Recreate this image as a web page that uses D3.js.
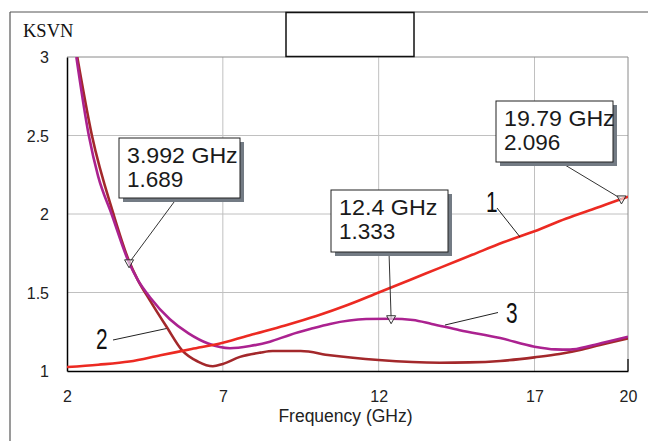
<!DOCTYPE html>
<html>
<head>
<meta charset="utf-8">
<script src="https://cdn.jsdelivr.net/npm/d3@7/dist/d3.min.js"></script>
<style>
  html, body { margin: 0; padding: 0; background: #fff; }
  svg { display: block; }
</style>
</head>
<body>
<svg id="chart" width="648" height="441"></svg>
<script>
// ---------- data ----------
const xTicks = [2, 7, 12, 17, 20];
const yTicks = [1, 1.5, 2, 2.5, 3];
const yTickLabels = ["1", "1.5", "2", "2.5", "3"];

// series 1 (red)
const freq1 = [2, 3, 4, 5, 6, 7, 8, 9, 10, 11, 12, 13, 14, 15, 16, 17, 18, 19, 19.79, 20];
const ksvn1 = [1.025, 1.04, 1.06, 1.10, 1.14, 1.18, 1.235, 1.29, 1.35, 1.42, 1.50, 1.58, 1.66, 1.74, 1.82, 1.89, 1.97, 2.04, 2.096, 2.11];

// series 2 (brown)
const freq2 = [2.33, 2.8, 3.49, 3.99, 4.27, 4.66, 5.2, 5.7, 6.2, 6.68, 7.0, 7.55, 8.2, 8.6, 9.5, 10.44, 12, 13.96, 14.9, 15.9, 17, 17.8, 18.46, 19.1, 20];
const ksvn2 = [3.0, 2.5, 2.0, 1.70, 1.58, 1.45, 1.28, 1.13, 1.06, 1.03, 1.045, 1.09, 1.117, 1.127, 1.127, 1.10, 1.07, 1.053, 1.055, 1.064, 1.087, 1.108, 1.134, 1.166, 1.208];

// series 3 (purple)
const freq3 = [2.3, 2.7, 3.0, 3.43, 3.992, 4.27, 4.66, 5.3, 5.9, 6.53, 7.23, 7.87, 8.51, 9.15, 9.8, 10.44, 11.6, 12.4, 13.1, 13.7, 14.6, 15.9, 17, 17.66, 18.14, 18.8, 19.4, 20];
const ksvn3 = [3.0, 2.5, 2.24, 2.0, 1.689, 1.58, 1.47, 1.33, 1.24, 1.175, 1.145, 1.159, 1.187, 1.23, 1.267, 1.30, 1.331, 1.333, 1.325, 1.30, 1.26, 1.21, 1.155, 1.138, 1.136, 1.16, 1.19, 1.218];

// markers
const markerFreq = [3.992, 12.4, 19.79];
const markerVal = [1.689, 1.333, 2.096];
const markerLine1 = ["3.992 GHz", "12.4 GHz", "19.79 GHz"];
const markerLine2 = ["1.689", "1.333", "2.096"];

// curve labels
const curveNames = ["1", "2", "3"];

// ---------- layout ----------
const svg = d3.select("#chart");
const L = 67, R = 628, T = 57, B = 371;

const x = d3.scaleLinear().domain([2, 20]).range([L, R]);
const y = d3.scaleLinear().domain([1, 3]).range([B, T]);

// outer frame
svg.append("line").attr("x1", 10).attr("y1", 12).attr("x2", 10).attr("y2", 441)
  .attr("stroke", "#9a9a9a").attr("stroke-width", 2);
svg.append("line").attr("x1", 10).attr("y1", 12).attr("x2", 648).attr("y2", 12)
  .attr("stroke", "#555").attr("stroke-width", 1);

// grid
const grid = svg.append("g");
[7, 12, 17].forEach(v => {
  grid.append("line").attr("x1", x(v)).attr("x2", x(v)).attr("y1", T).attr("y2", B)
    .attr("stroke", "#c0c0c0").attr("stroke-width", 1);
});
[1.5, 2, 2.5].forEach(v => {
  grid.append("line").attr("x1", L).attr("x2", R).attr("y1", y(v)).attr("y2", y(v))
    .attr("stroke", "#c0c0c0").attr("stroke-width", 1);
});

// plot border: top/right gray
svg.append("line").attr("x1", L).attr("x2", R).attr("y1", T).attr("y2", T)
  .attr("stroke", "#8a8a8a").attr("stroke-width", 1);
svg.append("line").attr("x1", R).attr("x2", R).attr("y1", T).attr("y2", B)
  .attr("stroke", "#8a8a8a").attr("stroke-width", 1);
svg.append("line").attr("x1", R).attr("x2", R).attr("y1", B - 12).attr("y2", B)
  .attr("stroke", "#000").attr("stroke-width", 1.2);

// axes
const xAxis = d3.axisBottom(x).tickValues(xTicks).tickSize(0).tickFormat(d3.format("d"));
const gx = svg.append("g").attr("transform", `translate(0,${B})`).call(xAxis);
gx.select(".domain").attr("stroke", "#000").attr("stroke-width", 1.5);
gx.selectAll("text").attr("font-family", "Liberation Sans, Arial, sans-serif")
  .attr("font-size", 16).attr("fill", "#222").attr("dy", 0).attr("y", 31);

const yAxis = d3.axisLeft(y).tickValues(yTicks).tickSize(0).tickFormat((d, i) => yTickLabels[i]);
const gy = svg.append("g").attr("transform", `translate(${L},0)`).call(yAxis);
gy.select(".domain").attr("stroke", "#000").attr("stroke-width", 1.5);
gy.selectAll("text").attr("font-family", "Liberation Sans, Arial, sans-serif")
  .attr("font-size", 16).attr("fill", "#222").attr("x", -18).attr("dy", "0.35em");

// axis titles
svg.append("text").attr("x", (L + R) / 2 - 2).attr("y", 422).attr("text-anchor", "middle")
  .attr("font-family", "Liberation Sans, Arial, sans-serif").attr("font-size", 17.5)
  .attr("fill", "#222").text("Frequency (GHz)");
svg.append("text").attr("x", 23).attr("y", 36.5)
  .attr("font-family", "Liberation Serif, Times New Roman, serif").attr("font-size", 18.5)
  .attr("fill", "#111").text("KSVN");

// title box (empty)
svg.append("rect").attr("x", 286).attr("y", 12.5).attr("width", 128).attr("height", 44)
  .attr("fill", "#fff").attr("stroke", "#111").attr("stroke-width", 1.5);

// curves
svg.append("clipPath").attr("id", "clip").append("rect")
  .attr("x", L).attr("y", T).attr("width", R - L).attr("height", B - T);
const line = d3.line().x(d => x(d[0])).y(d => y(d[1])).curve(d3.curveMonotoneX);
const series = [
  { f: freq2, v: ksvn2, color: "#a3282b" },
  { f: freq3, v: ksvn3, color: "#ab2290" },
  { f: freq1, v: ksvn1, color: "#ec2a22" }
];
const gc = svg.append("g").attr("clip-path", "url(#clip)");
series.forEach(s => {
  gc.append("path").datum(s.f.map((f, i) => [f, s.v[i]]))
    .attr("d", line).attr("fill", "none").attr("stroke", s.color)
    .attr("stroke-width", 2.6).attr("stroke-linejoin", "round");
});

// marker boxes
const boxes = [
  { bx: 119, by: 138, bw: 121, bh: 60, ax: 177 },
  { bx: 331, by: 190, bw: 117, bh: 62, ax: 389 },
  { bx: 496, by: 101, bw: 117, bh: 61, ax: 560 }
];
const gm = svg.append("g");
boxes.forEach((b, i) => {
  const px = x(markerFreq[i]), py = y(markerVal[i]);
  gm.append("line").attr("x1", b.ax).attr("y1", b.by + b.bh).attr("x2", px).attr("y2", py)
    .attr("stroke", "#333").attr("stroke-width", 1);
  gm.append("path")
    .attr("d", `M${px - 4.5},${py - 3} L${px + 4.5},${py - 3} L${px},${py + 5} Z`)
    .attr("fill", "#fff").attr("fill-opacity", 0.6).attr("stroke", "#333").attr("stroke-width", 1);
  gm.append("rect").attr("x", b.bx + 4).attr("y", b.by + 4).attr("width", b.bw).attr("height", b.bh)
    .attr("fill", "#737b84");
  gm.append("rect").attr("x", b.bx).attr("y", b.by).attr("width", b.bw).attr("height", b.bh)
    .attr("fill", "#fff").attr("stroke", "#222").attr("stroke-width", 1);
  gm.append("text").attr("x", b.bx + 8).attr("y", b.by + 24.5)
    .attr("font-family", "Liberation Sans, Arial, sans-serif").attr("font-size", 22.5)
    .attr("textLength", markerLine1[i].length * 12.3).attr("lengthAdjust", "spacingAndGlyphs")
    .attr("fill", "#1a1a1a").text(markerLine1[i]);
  gm.append("text").attr("x", b.bx + 8).attr("y", b.by + 49)
    .attr("font-family", "Liberation Sans, Arial, sans-serif").attr("font-size", 22.5)
    .attr("fill", "#1a1a1a").text(markerLine2[i]);
});

// curve labels with leaders
const labels = [
  { tx: 486, ty: 211.5, lx1: 497, ly1: 208, lx2: 520, ly2: 237 },
  { tx: 96, ty: 349, lx1: 113, ly1: 340, lx2: 166.5, ly2: 328.5 },
  { tx: 506, ty: 323, lx1: 498, ly1: 312.5, lx2: 445, ly2: 325 }
];
labels.forEach((l, i) => {
  svg.append("line").attr("x1", l.lx1).attr("y1", l.ly1).attr("x2", l.lx2).attr("y2", l.ly2)
    .attr("stroke", "#222").attr("stroke-width", 1);
  svg.append("text").attr("transform", `translate(${l.tx},${l.ty}) scale(0.72,1)`)
    .attr("font-family", "Liberation Sans, Arial, sans-serif").attr("font-size", 29)
    .attr("fill", "#111").text(curveNames[i]);
});
</script>
</body>
</html>
